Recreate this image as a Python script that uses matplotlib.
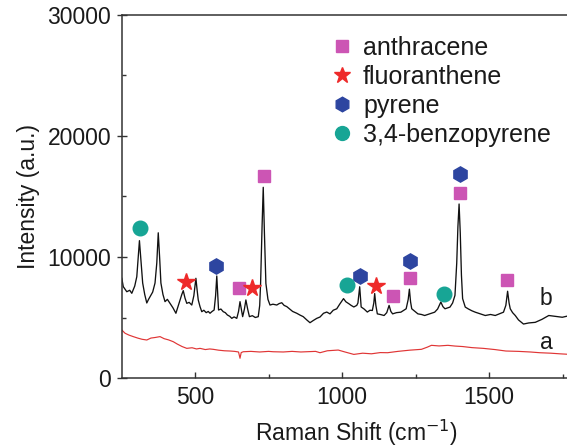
import matplotlib
matplotlib.use('Agg')
from matplotlib import pyplot as plt
from matplotlib.lines import Line2D

plt.rcParams['font.family'] = ['Liberation Sans', 'DejaVu Sans']

# spectrum b (sample with PAHs)
wn_b = [251, 256, 268, 278, 285, 295, 302, 311, 316, 322, 329, 336, 342, 347, 356, 364, 370,
        375, 380, 384, 391, 398, 406, 415, 425, 435, 442, 449, 455, 460, 466, 472, 480, 489,
        496, 503, 507, 511, 517, 523, 530, 538, 545, 551, 558, 565, 570, 574, 577, 580, 588,
        596, 603, 610, 618, 625, 633, 642, 648, 653, 658, 662, 668, 673, 679, 685, 695, 705,
        715, 720, 723, 728, 732, 736, 741, 748, 755, 765, 778, 786, 795, 803, 812, 822, 832,
        846, 857, 868, 880, 891, 902, 914, 925, 937, 948, 959, 970, 982, 992, 1005, 1013,
        1023, 1031, 1040, 1050, 1054, 1060, 1065, 1075, 1086, 1095, 1103, 1108, 1111, 1115,
        1120, 1130, 1143, 1152, 1160, 1166, 1172, 1185, 1200, 1210, 1218, 1225, 1229, 1233,
        1237, 1248, 1258, 1270, 1281, 1298, 1315, 1325, 1336, 1343, 1350, 1360, 1367, 1376,
        1384, 1390, 1394, 1398, 1402, 1406, 1410, 1419, 1430, 1442, 1453, 1470, 1487, 1505,
        1521, 1535, 1549, 1557, 1563, 1568, 1572, 1580, 1589, 1600, 1617, 1635, 1657, 1680,
        1703, 1725, 1749, 1775, 1800, 1850]
int_b = [8240, 7550, 7130, 7250, 7000, 7600, 8370, 11350, 9800, 7850, 6900, 6200, 6500, 6720,
         7100, 7850, 9500, 12000, 9800, 7850, 6900, 6310, 6500, 6170, 5800, 5350, 5900, 6450,
         6900, 7220, 6600, 6170, 6250, 6030, 6800, 8240, 7300, 6450, 5900, 5480, 5600, 5400,
         5500, 5350, 5500, 5620, 6800, 8430, 7000, 5620, 5700, 5480, 5400, 5210, 5100, 4930,
         5050, 4930, 5500, 6310, 5600, 5070, 5700, 6450, 5700, 5070, 5150, 5000, 5070, 6000,
         7820, 12500, 15760, 12000, 7820, 6500, 6030, 6100, 6030, 6150, 6220, 6000, 5900, 5700,
         5500, 5350, 5200, 5070, 4800, 4570, 4750, 4930, 5040, 5350, 5450, 5300, 5600, 5720,
         6100, 6560, 6300, 6140, 6000, 5870, 6000, 6200, 7540, 5870, 5700, 5450, 5600, 5580,
         6200, 6980, 6000, 5300, 5250, 5165, 5400, 6000, 5500, 5300, 5400, 5440, 5600, 5720,
         6500, 7340, 6300, 5720, 5500, 5300, 5250, 5165, 5300, 5440, 5700, 6280, 5900, 5720,
         5800, 5860, 6200, 6830, 9500, 12500, 14380, 12000, 8500, 6560, 5860, 5700, 5550, 5440,
         5300, 5165, 5250, 5165, 5300, 5440, 6000, 7170, 6200, 5720, 5400, 5165, 4800, 4460,
         4550, 4600, 4850, 5165, 5100, 5020, 5165, 5100, 5150]

# spectrum a (blank)
wn_a = [251, 262, 275, 290, 305, 320, 336, 350, 365, 381, 395, 410, 426, 440, 456, 472, 490,
        505, 517, 535, 550, 562, 580, 600, 619, 635, 648, 653, 657, 664, 690, 720, 750, 766,
        800, 830, 860, 879, 910, 925, 950, 987, 1010, 1040, 1070, 1100, 1130, 1155, 1190,
        1230, 1270, 1290, 1304, 1330, 1360, 1384, 1410, 1442, 1480, 1520, 1557, 1600, 1640,
        1672, 1710, 1740, 1775, 1850]
int_a = [3970, 3700, 3550, 3420, 3300, 3200, 3140, 3300, 3350, 3420, 3250, 3150, 3000, 2800,
         2600, 2450, 2500, 2400, 2450, 2350, 2400, 2370, 2300, 2250, 2230, 2200, 2150, 1630,
         2100, 2170, 2200, 2150, 2200, 2170, 2150, 2200, 2150, 2170, 2200, 2090, 2250, 2310,
         2150, 1950, 2050, 2000, 2100, 2090, 2200, 2300, 2370, 2550, 2700, 2650, 2700, 2640,
         2600, 2510, 2450, 2350, 2230, 2200, 2150, 2090, 2050, 2000, 1950, 1950]

# peak assignments (marker positions)
anthracene_x = [650, 735, 1172, 1232, 1402, 1560]
anthracene_y = [7410, 16720, 6780, 8230, 15300, 8090]
fluoranthene_x = [469, 695, 1117]
fluoranthene_y = [7900, 7410, 7620]
pyrene_x = [570, 1060, 1232, 1402]
pyrene_y = [9280, 8450, 9630, 16830]
benzopyrene_x = [313, 1017, 1348]
benzopyrene_y = [12370, 7680, 6980]

c_anth = '#cc55b4'
c_fluo = '#ee2a2a'
c_pyr = '#2d45a0'
c_benz = '#17a595'
fs = 16.5
txt = '#1a1a1a'

fig = plt.figure(figsize=(5.67, 4.48), dpi=100)
ax = fig.add_axes([121.5 / 567, 70 / 448, (592 - 121.5) / 567, 363 / 448])

ax.plot(wn_b, int_b, color='#111111', lw=0.95)
ax.plot(wn_a, int_a, color='#e03535', lw=0.85)

ax.plot(anthracene_x, anthracene_y, 's', color=c_anth, ms=8.5, ls='none')
ax.plot(fluoranthene_x, fluoranthene_y, '*', color=c_fluo, ms=13, ls='none')
ax.plot(pyrene_x, pyrene_y, 'h', color=c_pyr, ms=11, ls='none')
ax.plot(benzopyrene_x, benzopyrene_y, 'o', color=c_benz, ms=10.5, ls='none')

ax.text(1694, 6610, 'b', fontsize=fs, color=txt, ha='center', va='center')
ax.text(1694, 2930, 'a', fontsize=fs, color=txt, ha='center', va='center')

handles = [Line2D([], [], marker='s', color=c_anth, ls='none', ms=8),
           Line2D([], [], marker='*', color=c_fluo, ls='none', ms=12),
           Line2D([], [], marker='h', color=c_pyr, ls='none', ms=10.5),
           Line2D([], [], marker='o', color=c_benz, ls='none', ms=10)]
labels = ['anthracene', 'fluoranthene', 'pyrene', '3,4-benzopyrene']
leg = ax.legend(handles, labels, loc='upper left', bbox_to_anchor=(0.447, 0.942),
                frameon=False, fontsize=18, handlelength=0.8, handletextpad=0.45,
                labelspacing=0.2, borderpad=0, borderaxespad=0)
for t in leg.get_texts():
    t.set_color(txt)

ax.set_xlim(250, 1850)
ax.set_ylim(0, 30000)
ax.set_xticks([500, 1000, 1500])
ax.set_xticks([750, 1250, 1750], minor=True)
ax.set_yticks([0, 10000, 20000, 30000])
ax.set_yticks([5000, 15000, 25000], minor=True)
ax.tick_params(axis='x', which='major', direction='in', length=4, width=1, colors='#333333',
               labelcolor=txt, labelsize=fs, pad=6)
ax.tick_params(axis='x', which='minor', direction='in', length=3, width=1, colors='#333333')
ax.tick_params(axis='y', which='major', direction='inout', length=7, width=1, colors='#333333',
               labelcolor=txt, labelsize=fs, pad=4)
ax.tick_params(axis='y', which='minor', direction='in', length=3, width=1, colors='#333333')
for s in ax.spines.values():
    s.set_color('#333333')
    s.set_linewidth(1.1)

ax.set_xlabel('Raman Shift (cm$^{-1}$)', fontsize=fs, color=txt, labelpad=6)
ax.set_ylabel('Intensity (a.u.)', fontsize=fs, color=txt, labelpad=5)

fig.savefig('out.png', dpi=100)
